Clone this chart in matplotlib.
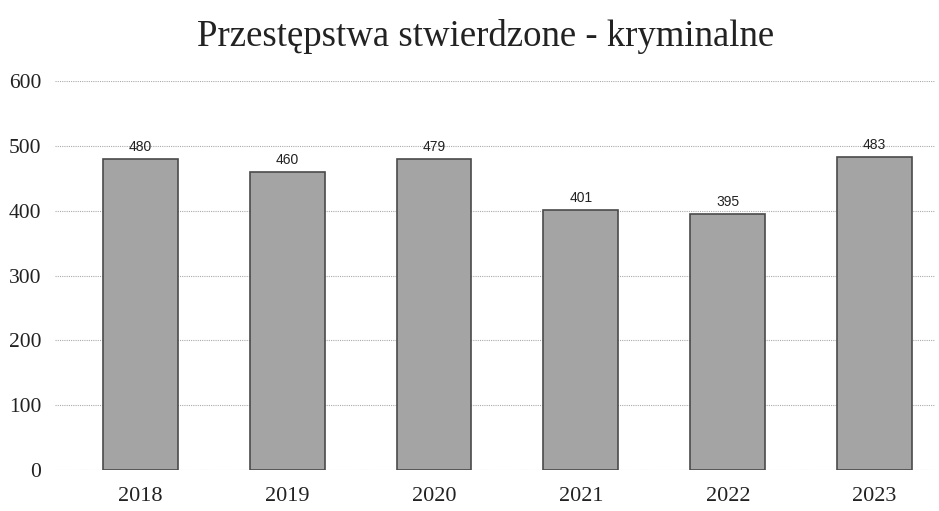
import matplotlib.pyplot as plt
import numpy as np

years = ["2018", "2019", "2020", "2021", "2022", "2023"]
values = [480, 460, 479, 401, 395, 483]
y_ticks = [0, 100, 200, 300, 400, 500, 600]

fig = plt.figure(figsize=(9.39, 5.11), dpi=100)
ax = fig.add_axes([0.0586, 0.0802, 0.937, 0.7613])

x = np.arange(len(years))
ax.bar(x, values, width=0.51, color="#a4a4a4", edgecolor="#4a4a4a",
       linewidth=1.2, zorder=2)

for xi, v in zip(x, values):
    ax.text(xi, v + 8, str(v), ha="center", va="bottom",
            fontsize=10, family="Liberation Sans", color="#222222")

ax.set_xlim(-0.58, 5.41)
ax.set_ylim(0, 600)
ax.set_yticks(y_ticks)
ax.set_yticklabels([str(t) for t in y_ticks], family="Liberation Serif",
                   fontsize=15.5, color="#222222")
ax.set_xticks(x)
ax.set_xticklabels(years, family="Liberation Serif", fontsize=16,
                   color="#222222")
ax.tick_params(length=0, axis="y", pad=10)
ax.tick_params(length=0, axis="x", pad=12)

ax.grid(axis="y", linestyle=(0, (1, 1)), color="#aaaaaa", linewidth=0.8,
        zorder=0)
for s in ax.spines.values():
    s.set_visible(False)

fig.text(0.517, 0.928, "Przestępstwa stwierdzone - kryminalne",
         ha="center", va="center", family="Liberation Serif", fontsize=26.5,
         color="#222222")

fig.savefig("out.png", dpi=100)
